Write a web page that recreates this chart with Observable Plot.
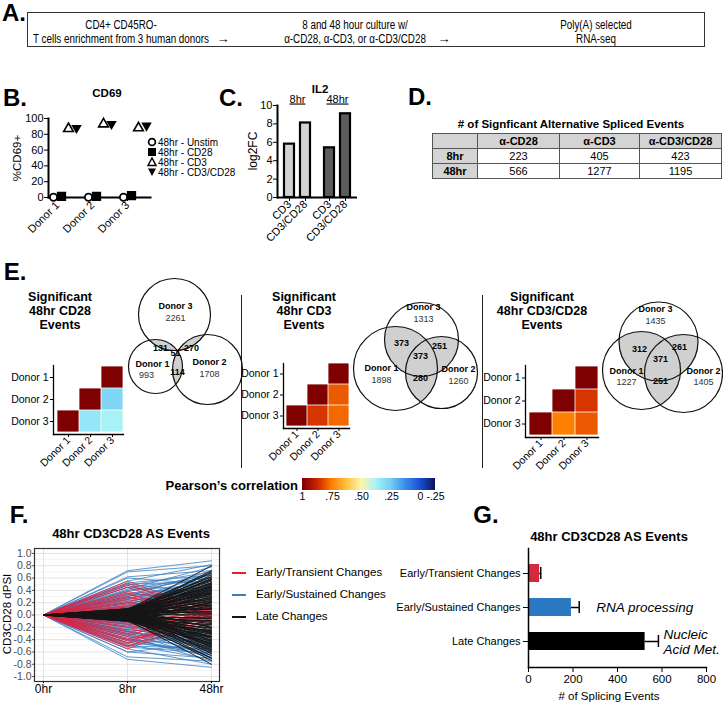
<!DOCTYPE html>
<html>
<head>
<meta charset="utf-8">
<script src="https://cdn.jsdelivr.net/npm/d3@7"></script>
<script src="https://cdn.jsdelivr.net/npm/@observablehq/plot@0.6"></script>
<style>
html,body{margin:0;padding:0;background:#fff;}
#fig{position:relative;width:723px;height:703px;overflow:hidden;font-family:"Liberation Sans",Arial,Helvetica,sans-serif;color:#000;background:#fff;}
#fig svg{overflow:visible;background:transparent;}
.t{position:absolute;white-space:nowrap;line-height:1;}
table.ase{border-collapse:collapse;font-size:11px;table-layout:fixed;}
table.ase td{border:1px solid #555;text-align:center;height:14px;padding:0;line-height:14px;}
</style>
</head>
<body>
<div id="fig"></div>
<script>
// ---------------- DATA ----------------
// Panel B: CD69 %
const donors = ["Donor 1", "Donor 2", "Donor 3"];
const cd69Unstim = [0.3, 0.3, 0.3];
const cd69CD28 = [1.5, 1.5, 2.5];
const cd69CD3 = [87, 93, 88];
const cd69CD3CD28 = [88, 93, 91];
const bTicks = [0, 20, 40, 60, 80, 100];
const bLegend = ["48hr - Unstim", "48hr - CD28", "48hr - CD3", "48hr - CD3/CD28"];

// Panel C: IL2 log2FC
const il2Time = ["8hr", "8hr", "48hr", "48hr"];
const il2Stim = ["CD3", "CD3/CD28", "CD3", "CD3/CD28"];
const il2Log2FC = [5.8, 8.1, 5.4, 9.1];
const cTicks = [0, 2, 4, 6, 8, 10];

// Panel D: table
const tblCols = ["α-CD28", "α-CD3", "α-CD3/CD28"];
const tblRows = ["8hr", "48hr"];
const ase8hr = [223, 405, 423];
const ase48hr = [566, 1277, 1195];

// Panel E: correlation heatmaps (row, col, value)
const hmDonors = ["Donor 1", "Donor 2", "Donor 3"];
const hmRows = ["Donor 1", "Donor 2", "Donor 2", "Donor 3", "Donor 3", "Donor 3"];
const hmCols = ["Donor 3", "Donor 2", "Donor 3", "Donor 1", "Donor 2", "Donor 3"];
const corrCD28 = [1, 1, 0.28, 1, 0.33, 0.37];
const corrCD3 = [1, 1, 0.8, 1, 0.85, 0.78];
const corrCD3CD28 = [1, 1, 0.85, 1, 0.75, 0.8];
const corrStops = [1, 0.875, 0.75, 0.625, 0.5, 0.375, 0.25, 0.125, 0, -0.25];
const corrColors = ["#7f0000", "#cc2200", "#ff8000", "#ffc040", "#fff4b0", "#a8f4f6", "#72cef5", "#3a8ee8", "#1a4fd0", "#0a1560"];
const corrTicks = [1, 0.75, 0.5, 0.25, 0, -0.25];
const corrTickLabels = ["1", ".75", ".50", ".25", "0", "-.25"];

// Panel E: Venn counts (Donor 1, Donor 2, Donor 3 only; pairs 1∩3, 2∩3, 1∩2; triple)
const vennNames = ["Donor 1", "Donor 2", "Donor 3"];
const vennCD28Only = [993, 1708, 2261];
const vennCD28Pairs = [131, 270, 114];
const vennCD28Triple = 51;
const vennCD3Only = [1898, 1260, 1313];
const vennCD3Pairs = [373, 251, 280];
const vennCD3Triple = 373;
const vennCD3CD28Only = [1227, 1405, 1435];
const vennCD3CD28Pairs = [312, 261, 251];
const vennCD3CD28Triple = 371;

// Panel F: dPSI trajectories (8hr value, 48hr value); 0hr is 0
const fTime = ["0hr", "8hr", "48hr"];
const fTicks = [-1, -0.8, -0.6, -0.4, -0.2, 0, 0.2, 0.4, 0.6, 0.8, 1];
const fMinor = [-0.9, -0.7, -0.5, -0.3, -0.1, 0.1, 0.3, 0.5, 0.7, 0.9];
const transient8 = [0.55,0.52,0.48,0.45,0.38,0.36,0.33,0.30,0.28,0.25,0.22,0.20,0.18,0.15,0.13,0.12,-0.55,-0.52,-0.50,-0.47,-0.45,-0.42,-0.40,-0.38,-0.35,-0.32,-0.30,-0.27,-0.24,-0.20,-0.18,-0.15,-0.12];
const transient48 = [0.05,-0.05,0.10,0.00,0.12,-0.10,0.05,-0.05,0.15,0.02,-0.12,0.08,-0.02,0.10,-0.08,0.00,-0.05,0.06,-0.12,0.02,0.10,-0.08,0.04,-0.15,0.12,-0.02,0.07,-0.10,0.03,-0.06,0.11,-0.03,0.05];
const sustained8 = [0.72,0.70,0.62,0.55,0.52,0.50,0.48,0.45,0.42,0.40,0.38,0.35,0.33,0.30,0.28,0.26,0.24,0.22,0.20,0.18,0.16,0.15,0.13,0.12,0.10,0.50,0.45,0.35,0.60,0.30,0.25,0.20,0.14,0.11,0.32,0.40,0.27,
  -0.72,-0.68,-0.60,-0.55,-0.52,-0.50,-0.48,-0.45,-0.42,-0.40,-0.38,-0.35,-0.33,-0.30,-0.28,-0.26,-0.24,-0.22,-0.20,-0.18,-0.16,-0.15,-0.13,-0.12,-0.10,-0.50,-0.45,-0.60,-0.35,-0.30,-0.25,-0.20,-0.14,-0.11,-0.32,-0.40,-0.27];
const sustained48 = [0.88,0.80,0.72,0.82,0.65,0.55,0.70,0.60,0.78,0.50,0.62,0.45,0.68,0.55,0.40,0.58,0.35,0.50,0.30,0.45,0.62,0.25,0.40,0.30,0.20,0.35,0.30,0.20,0.50,0.72,0.66,0.55,0.50,0.35,0.35,0.65,0.48,
  -0.85,-0.75,-0.70,-0.80,-0.62,-0.55,-0.72,-0.58,-0.65,-0.50,-0.68,-0.45,-0.60,-0.52,-0.40,-0.55,-0.35,-0.48,-0.30,-0.42,-0.60,-0.25,-0.38,-0.28,-0.20,-0.30,-0.25,-0.45,-0.75,-0.70,-0.66,-0.55,-0.50,-0.35,-0.35,-0.62,-0.48];
const late8 = [0.08,0.05,0.10,0.02,0.06,-0.02,0.04,0.09,0.00,0.03,-0.04,0.07,0.01,-0.06,0.05,0.02,-0.03,0.08,0.00,-0.05,0.04,0.06,-0.01,0.03,-0.07,0.02,0.05,-0.02,0.01,0.04,
  -0.08,-0.05,-0.10,-0.02,-0.06,0.02,-0.04,-0.09,0.00,-0.03,0.04,-0.07,-0.01,0.06,-0.05,-0.02,0.03,-0.08,0.00,0.05,-0.04,-0.06,0.01,-0.03,0.07,-0.02,-0.05,0.02,-0.01,-0.04,
  0.03,-0.03,0.06,-0.06,0.00,0.10,-0.10,0.07,-0.07,0.09,-0.09,0.03,-0.03,0.10,-0.10,0.05,-0.05,
  0.09,0.07,0.05,0.03,0.01,-0.01,-0.03,-0.05,-0.07,-0.09,0.08,0.06,0.04,0.02,0.00,-0.02,-0.04,-0.06,-0.08,-0.10,
  0.10,0.07,0.04,0.01,-0.02,-0.05,-0.08,0.09,0.03,-0.03,0.06,-0.06,0.02,-0.02,0.08,-0.08,0.05,-0.05,0.00,0.04];
const late48 = [0.80,0.72,0.68,0.65,0.62,0.60,0.58,0.55,0.53,0.50,0.48,0.46,0.44,0.42,0.40,0.38,0.36,0.34,0.32,0.30,0.28,0.26,0.24,0.22,0.20,0.18,0.16,0.14,0.12,0.10,
  -0.80,-0.74,-0.70,-0.66,-0.62,-0.60,-0.57,-0.54,-0.52,-0.50,-0.48,-0.46,-0.44,-0.42,-0.40,-0.38,-0.36,-0.34,-0.32,-0.30,-0.28,-0.26,-0.24,-0.22,-0.20,-0.18,-0.16,-0.14,-0.12,-0.10,
  0.06,-0.06,0.03,-0.03,0.00,0.45,-0.45,0.35,-0.35,0.25,-0.25,0.70,-0.70,-0.20,0.20,-0.35,0.35,
  0.62,0.57,0.51,0.47,0.43,0.39,0.33,0.27,0.21,0.15,-0.63,-0.56,-0.51,-0.47,-0.43,-0.37,-0.31,-0.27,-0.21,-0.15,
  0.52,0.44,0.37,0.29,0.23,0.17,0.11,-0.53,-0.41,-0.29,0.09,-0.09,0.05,-0.05,0.58,-0.58,0.48,-0.48,0.02,0.41];
const fGroups = ["Early/Transient Changes", "Early/Sustained Changes", "Late Changes"];
const fColors = ["#e3203c", "#3b7fc0", "#151515"];

// Panel G: counts per class
const gCats = ["Early/Transient Changes", "Early/Sustained Changes", "Late Changes"];
const gCounts = [50, 193, 524];
const gErr = [5, 35, 60];
const gColors = ["#d42a3c", "#2a79c2", "#000000"];
const gNotes = ["", "RNA processing", "Nucleic\nAcid Met."];
const gTicks = [0, 200, 400, 600, 800];

// ---------------- HELPERS ----------------
const FONT = '"Liberation Sans", Arial, Helvetica, sans-serif';
const fig = document.getElementById("fig");
function place(node, left, top) {
  node.style.position = "absolute";
  node.style.left = left + "px";
  node.style.top = top + "px";
  fig.appendChild(node);
  return node;
}
function text(str, x, y, css = "", anchor = "middle", extra = "") {
  const d = document.createElement("div");
  d.className = "t";
  d.innerHTML = str;
  const tx = anchor === "start" ? "0" : anchor === "end" ? "-100%" : "-50%";
  d.style.cssText = css + `;transform:translate(${tx},-50%) ${extra}`;
  return place(d, x, y);
}
function vtext(str, x, y, css = "") {
  const d = document.createElement("div");
  d.className = "t";
  d.innerHTML = str;
  d.style.cssText = css + ";transform:translate(-50%,-50%) rotate(-90deg)";
  return place(d, x, y);
}
function box(left, top, w, h, css) {
  const d = document.createElement("div");
  d.style.cssText = `width:${w}px;height:${h}px;${css}`;
  return place(d, left, top);
}

// ---------------- PANEL LETTERS ----------------
const letters = ["A.", "B.", "C.", "D.", "E.", "F.", "G."];
const letterX = [14, 15, 231, 420, 15, 19, 486];
const letterY = [13, 98, 98, 97, 272, 515, 515];
letters.forEach((l, i) => text(l, letterX[i], letterY[i], "font-weight:bold;font-size:24px"));

// ---------------- PANEL A ----------------
box(27, 12, 678, 35, "border:1px solid #333;box-sizing:border-box");
const aLine1 = ["CD4+ CD45RO-", "8 and 48 hour culture w/", "Poly(A) selected"];
const aLine2 = ["T cells enrichment from 3 human donors", "α-CD28, α-CD3, or α-CD3/CD28", "RNA-seq"];
const aX = [121, 355, 596];
const narrow = "font-size:12px;transform-origin:50% 50%";
aX.forEach((x, i) => {
  text(aLine1[i], x, 25, narrow, "middle", "scaleX(0.82)");
  text(aLine2[i], x, 39, narrow, "middle", "scaleX(0.82)");
});
text("→", 223, 38, "font-size:13px");
text("→", 444, 38, "font-size:13px");

// ---------------- PANEL B ----------------
const triDown = {
  draw(ctx, size) {
    const y = Math.sqrt(size / (3 * Math.sqrt(3))), s = Math.sqrt(3);
    ctx.moveTo(0, 2 * y); ctx.lineTo(-s * y, -y); ctx.lineTo(s * y, -y); ctx.closePath();
  }
};
const bRows = donors.map((d, i) => ({donor: d, unstim: cd69Unstim[i], cd28: cd69CD28[i], cd3: cd69CD3[i], cd3cd28: cd69CD3CD28[i]}));
const plotB = Plot.plot({
  width: 160, height: 126, marginLeft: 48, marginRight: 10, marginTop: 10, marginBottom: 37,
  style: {fontFamily: FONT, fontSize: "11px", color: "#000", background: "transparent"},
  x: {type: "point", domain: donors, padding: 0.44, align: 0.29, label: null},
  y: {domain: [0, 100], label: null},
  marks: [
    Plot.frame({anchor: "left", strokeWidth: 2}),
    Plot.frame({anchor: "bottom", strokeWidth: 2}),
    Plot.axisY({ticks: bTicks, tickSize: 4, tickPadding: 1}),
    Plot.axisX({tickSize: 4, tickRotate: -45, tickPadding: 2}),
    Plot.dot(bRows, {x: "donor", y: "unstim", symbol: "circle", r: 3.6, fill: "white", stroke: "black", strokeWidth: 1.8, dx: -4}),
    Plot.dot(bRows, {x: "donor", y: "cd28", symbol: "square", r: 4.4, fill: "black", stroke: "black", dx: 4}),
    Plot.dot(bRows, {x: "donor", y: "cd3", symbol: "triangle", r: 3.6, fill: "white", stroke: "black", strokeWidth: 1.6, dx: 11}),
    Plot.dot(bRows, {x: "donor", y: "cd3cd28", symbol: triDown, r: 3.9, fill: "black", stroke: "none", dx: 19})
  ]
});
place(plotB, 0, 108);
text("CD69", 107, 94, "font-weight:bold;font-size:11.5px");
vtext("%CD69+", 18, 158, "font-size:11.5px");
const bSyms = [
  '<circle cx="5" cy="5" r="3.4" fill="white" stroke="black" stroke-width="1.7"/>',
  '<rect x="1" y="1" width="8" height="8" fill="black"/>',
  '<path d="M5 1 L9 8.5 L1 8.5 Z" fill="white" stroke="black" stroke-width="1.5"/>',
  '<path d="M1 1.5 L9 1.5 L5 9 Z" fill="black"/>'
];
const bLegY = [142, 152, 162, 172];
bLegend.forEach((lab, i) => {
  const s = document.createElement("div");
  s.innerHTML = `<svg width="10" height="10">${bSyms[i]}</svg>`;
  s.style.cssText = "width:10px;height:10px;line-height:0";
  place(s, 147, bLegY[i] - 5);
  text(lab, 158, bLegY[i], "font-size:10px;line-height:9px", "start");
});

// ---------------- PANEL C ----------------
const il2 = il2Time.map((t, i) => ({time: t, stim: il2Stim[i], v: il2Log2FC[i]}));
const plotC = Plot.plot({
  width: 122, height: 142, marginLeft: 36, marginRight: 6, marginTop: 10, marginBottom: 40,
  style: {fontFamily: FONT, fontSize: "11px", color: "#000", background: "transparent"},
  fx: {domain: ["8hr", "48hr"], padding: 0, label: null},
  x: {domain: ["CD3", "CD3/CD28"], padding: 0.4, label: null},
  y: {domain: [0, 10], label: null},
  color: {domain: ["8hr", "48hr"], range: ["#d2d2d2", "#5c5c5c"]},
  marks: [
    Plot.barY(il2, {fx: "time", x: "stim", y: "v", fill: "time", stroke: "black", strokeWidth: 2.2}),
    Plot.ruleY([0], {strokeWidth: 2}),
    Plot.frame({anchor: "left", facetAnchor: "left", strokeWidth: 2}),
    Plot.axisY({ticks: cTicks, tickSize: 4, tickPadding: 1}),
    Plot.axisX({tickSize: 4, tickRotate: -45, tickPadding: 1}),
    Plot.axisFx({anchor: "top", tickSize: 0, tickPadding: 3, label: null})
  ]
});
plotC.querySelectorAll('g[aria-label="fx-axis tick label"] text').forEach(t => t.style.textDecoration = "underline");
place(plotC, 241, 95);
text("IL2", 320, 90, "font-weight:bold;font-size:11.5px");
vtext("log2FC", 253, 151, "font-size:12px");

// ---------------- PANEL D ----------------
text("# of Signficant Alternative Spliced Events", 571, 125, "font-weight:bold;font-size:11.5px");
const tbl = document.createElement("table");
tbl.className = "ase";
tbl.style.width = "289px";
let th = '<colgroup><col style="width:45px"><col style="width:82px"><col style="width:80px"><col style="width:82px"></colgroup>';
th += '<tr><td style="background:#d4d4d4"></td>' + tblCols.map(c => `<td style="background:#d4d4d4;font-weight:bold">${c}</td>`).join("") + "</tr>";
[ase8hr, ase48hr].forEach((row, r) => {
  th += `<tr><td style="background:#d4d4d4;font-weight:bold">${tblRows[r]}</td>` + row.map(v => `<td>${v}</td>`).join("") + "</tr>";
});
tbl.innerHTML = th;
place(tbl, 432, 133);

// ---------------- PANEL E ----------------
const eTitles = ["Significant<br>48hr CD28<br>Events", "Significant<br>48hr CD3<br>Events", "Significant<br>48hr CD3/CD28<br>Events"];
const eTitleX = [60, 304, 542];
eTitles.forEach((t, i) => text(t, eTitleX[i], 311, "font-weight:bold;font-size:12.5px;line-height:14px;text-align:center"));
box(241, 295, 1, 173, "background:#222");
box(482, 295, 1, 173, "background:#222");

const corrScale = {type: "linear", domain: corrStops, range: corrColors, interpolate: "rgb"};
function heatmap(vals, left, top, size, marginLeft) {
  const cells = hmRows.map((r, i) => ({row: r, col: hmCols[i], v: vals[i]}));
  const p = Plot.plot({
    width: marginLeft + size + 5, height: 8 + size + 2 + 44,
    marginLeft, marginRight: 2, marginTop: 8, marginBottom: 44,
    style: {fontFamily: FONT, fontSize: "10.5px", color: "#000", background: "transparent"},
    x: {domain: hmDonors, padding: 0, insetLeft: 3, label: null},
    y: {domain: hmDonors, padding: 0, insetBottom: 2, label: null},
    color: corrScale,
    marks: [
      Plot.cell(cells, {x: "col", y: "row", fill: "v", inset: 0.4}),
      Plot.frame({anchor: "left", strokeWidth: 1.3}),
      Plot.frame({anchor: "bottom", strokeWidth: 1.3}),
      Plot.axisY({tickSize: 3, tickPadding: 2}),
      Plot.axisX({tickSize: 3, tickRotate: -45, tickPadding: 1})
    ]
  });
  return place(p, left, top);
}
heatmap(corrCD28, 2, 357, 67, 51);
heatmap(corrCD3, 239, 355, 63, 44);
heatmap(corrCD3CD28, 481, 357, 70, 44);

function lensPolygon(a, b) {
  const dx = b.x - a.x, dy = b.y - a.y, d = Math.hypot(dx, dy), ux = dx / d, uy = dy / d;
  const t = (d - b.r + a.r) / 2;
  const px = a.x + ux * t, py = a.y + uy * t;
  const pts = [];
  for (let k = 0; k < 120; k++) {
    const th = 2 * Math.PI * k / 120, cx = Math.cos(th), sy = Math.sin(th);
    let tm = Infinity;
    for (const c of [a, b]) {
      const wx = px - c.x, wy = py - c.y, bb = wx * cx + wy * sy, cc = wx * wx + wy * wy - c.r * c.r;
      tm = Math.min(tm, -bb + Math.sqrt(bb * bb - cc));
    }
    pts.push({x: px + cx * tm, y: py + sy * tm});
  }
  return pts;
}
// Venn layout (circle centers/radii and label anchors in the figure's pixel frame)
function venn(cfg) {
  const {x0, y0, w, h, cx, cy, r, only, pairs, triple, nameXY, onlyXY, pairXY, tripleXY} = cfg;
  const circles = cx.map((x, i) => ({x, y: cy[i], r: r[i]}));
  const lenses = [[0, 2], [1, 2], [0, 1]].flatMap(([i, j], k) => lensPolygon(circles[i], circles[j]).map(p => ({...p, k})));
  const names = vennNames.map((n, i) => ({n, x: nameXY[i][0], y: nameXY[i][1]}));
  const onlys = only.map((v, i) => ({v: String(v), x: onlyXY[i][0], y: onlyXY[i][1]}));
  const ixy = pairXY.concat([tripleXY]);
  const inters = pairs.concat([triple]).map((v, i) => ({v: String(v), x: ixy[i][0], y: ixy[i][1]}));
  const p = Plot.plot({
    width: w, height: h, margin: 0,
    style: {fontFamily: FONT, color: "#000", background: "transparent"},
    x: {domain: [x0, x0 + w], axis: null},
    y: {domain: [y0, y0 + h], reverse: true, axis: null},
    marks: [
      Plot.line(lenses, {x: "x", y: "y", z: "k", fill: "#d0d0d0", stroke: "none", curve: "linear-closed"}),
      ...circles.map(c => Plot.dot([c], {x: "x", y: "y", r: c.r, stroke: "#111", strokeWidth: 1.2, fill: "none"})),
      Plot.text(names, {x: "x", y: "y", text: "n", fontWeight: "bold", fontSize: 9}),
      Plot.text(onlys, {x: "x", y: "y", text: "v", fontSize: 9, fill: "#333"}),
      Plot.text(inters, {x: "x", y: "y", text: "v", fontWeight: "bold", fontSize: 9})
    ]
  });
  return place(p, x0, y0);
}
venn({x0: 110, y0: 268, w: 135, h: 145,
  cx: [155, 207, 174], cy: [366, 369, 314], r: [27, 35, 36],
  only: vennCD28Only, pairs: vennCD28Pairs, triple: vennCD28Triple,
  nameXY: [[152, 364], [209, 362], [175, 306]], onlyXY: [[146, 375], [209, 374], [175, 318]],
  pairXY: [[160, 348], [191, 348], [177, 372]], tripleXY: [175, 353]});
venn({x0: 348, y0: 296, w: 135, h: 120,
  cx: [395, 441, 421], cy: [368, 372, 339], r: [42, 36, 37],
  only: vennCD3Only, pairs: vennCD3Pairs, triple: vennCD3Triple,
  nameXY: [[381, 368], [458, 369], [423, 307]], onlyXY: [[381, 380], [458, 381], [423, 319]],
  pairXY: [[401, 343], [439, 346], [420, 378]], tripleXY: [420, 356]});
venn({x0: 595, y0: 296, w: 128, h: 120,
  cx: [641, 683, 658], cy: [370, 373, 341], r: [39, 39, 39.5],
  only: vennCD3CD28Only, pairs: vennCD3CD28Pairs, triple: vennCD3CD28Triple,
  nameXY: [[626, 371], [703, 371], [655, 309]], onlyXY: [[626, 382], [703, 382], [655, 321]],
  pairXY: [[639, 349], [679, 347], [660, 381]], tripleXY: [660, 359]});

// color bar
const ramp = Plot.legend({
  color: corrScale, label: null, width: 145, height: 26,
  marginLeft: 6, marginRight: 6, marginTop: 0, marginBottom: 14, tickSize: 0,
  ticks: corrTicks, tickFormat: d => corrTickLabels[corrTicks.indexOf(d)] ?? "",
  style: {fontFamily: FONT, fontSize: "10.5px", color: "#000", background: "transparent"}
});
ramp.querySelectorAll(".tick line").forEach(l => l.remove());
place(ramp, 296, 478);
text("Pearson’s correlation", 298, 485, "font-weight:bold;font-size:13px", "end");

// ---------------- PANEL F ----------------
function series(a8, a48, grp) {
  return a8.flatMap((v, i) => [
    {t: "0hr", v: 0, id: grp + i},
    {t: "8hr", v: v, id: grp + i},
    {t: "48hr", v: a48[i], id: grp + i}
  ]);
}
const fBlue = series(sustained8, sustained48, "s");
const fBlack = series(late8, late48, "l");
const fRed = series(transient8, transient48, "t");
const plotF = Plot.plot({
  width: 220, height: 162, marginLeft: 34, marginRight: 1, marginTop: 8, marginBottom: 21,
  style: {fontFamily: FONT, fontSize: "10.5px", color: "#000", background: "transparent"},
  x: {type: "point", domain: fTime, padding: 0.095, label: null},
  y: {domain: [-1.08, 1.08], label: null},
  marks: [
    Plot.gridY(fMinor, {stroke: "#ececec", strokeOpacity: 1, strokeWidth: 0.6}),
    Plot.gridY(fTicks, {stroke: "#e0e0e0", strokeOpacity: 1, strokeWidth: 0.9}),
    Plot.gridX({stroke: "#e0e0e0", strokeOpacity: 1, strokeWidth: 0.9}),
    Plot.line(fBlue, {x: "t", y: "v", z: "id", stroke: fColors[1], strokeWidth: 0.8}),
    Plot.line(fRed, {x: "t", y: "v", z: "id", stroke: fColors[0], strokeWidth: 0.8}),
    Plot.line(fBlack, {x: "t", y: "v", z: "id", stroke: fColors[2], strokeWidth: 1.0, strokeOpacity: 0.9}),
    Plot.frame({stroke: "#333", strokeWidth: 1.2}),
    Plot.axisY({ticks: fTicks, tickFormat: d => d.toFixed(1), tickSize: 2, tickPadding: 1, color: "#4d4d4d"}),
    Plot.axisX({tickSize: 2, tickPadding: 1, fontSize: 12})
  ]
});
place(plotF, 0, 540);
text("48hr CD3CD28 AS Events", 131, 533, "font-weight:bold;font-size:13px");
vtext("CD3CD28 dPSI", 8, 614, "font-size:11.5px");
const fLegY = [573, 595, 617];
fGroups.forEach((g, i) => {
  box(232, fLegY[i] - 0.75, 14, 1.5, `background:${fColors[i]}`);
  text(g, 256, fLegY[i], "font-size:11.5px", "start");
});

// ---------------- PANEL G ----------------
const gRows = gCats.map((c, i) => ({cat: c, n: gCounts[i], err: gErr[i], note: gNotes[i]}));
const plotG = Plot.plot({
  width: 303, height: 162, marginLeft: 108, marginRight: 17, marginTop: 8, marginBottom: 35,
  style: {fontFamily: FONT, fontSize: "11px", color: "#000", background: "transparent"},
  x: {domain: [0, 800], label: null},
  y: {domain: gCats, padding: 0.46, label: null},
  color: {domain: gCats, range: gColors},
  marks: [
    Plot.barX(gRows, {x: "n", y: "cat", fill: "cat"}),
    Plot.ruleY(gRows, {y: "cat", x1: "n", x2: d => d.n + d.err, strokeWidth: 1.5}),
    Plot.tickX(gRows, {y: "cat", x: d => d.n + d.err, strokeWidth: 1.5, insetTop: 3, insetBottom: 3}),
    Plot.frame({anchor: "left", strokeWidth: 1.5}),
    Plot.frame({anchor: "bottom", strokeWidth: 1.5}),
    Plot.axisX({ticks: gTicks, tickSize: 5, tickPadding: 2, fontSize: 11.5}),
    Plot.axisY({tickSize: 5, tickPadding: 3}),
    Plot.text(gRows.filter(d => d.cat === "Early/Sustained Changes"), {x: d => d.n + d.err, y: "cat", text: "note", dx: 17, textAnchor: "start", fontStyle: "italic", fontSize: 13.5}),
    Plot.text(gRows.filter(d => d.cat === "Late Changes"), {x: d => d.n + d.err, y: "cat", text: "note", dx: 5, textAnchor: "start", fontStyle: "italic", fontSize: 13.5, lineHeight: 1.1})
  ]
});
place(plotG, 420, 540);
text("48hr CD3CD28 AS Events", 609, 536, "font-weight:bold;font-size:13px");
text("# of Splicing Events", 609, 697, "font-size:11.5px");
</script>
</body>
</html>
